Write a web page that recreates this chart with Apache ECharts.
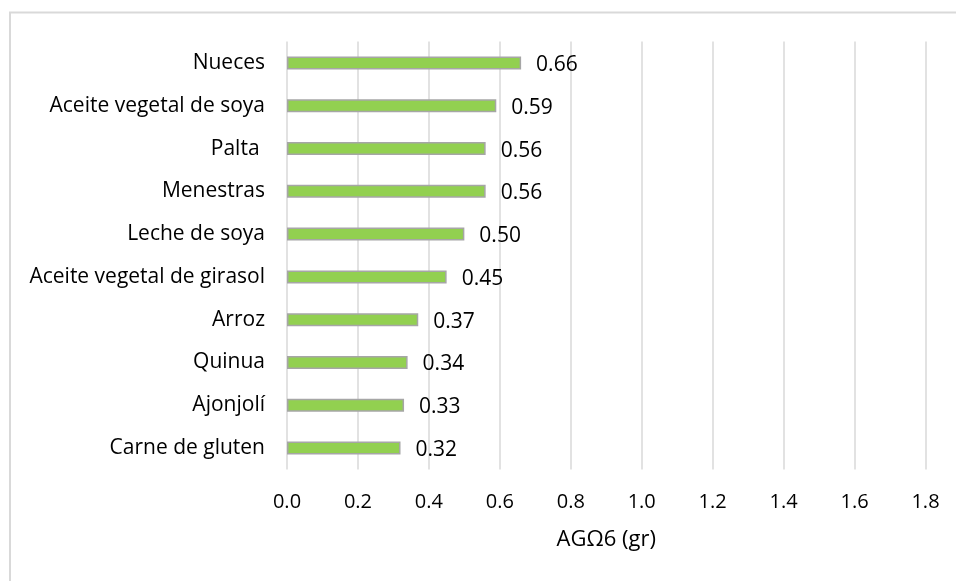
<!DOCTYPE html>
<html>
<head>
    <meta charset="UTF-8">
    <title>AGΩ6 bar chart</title>
    <script src="https://cdn.jsdelivr.net/npm/echarts@6/dist/echarts.min.js"></script>
    <style>
        html, body { margin: 0; padding: 0; background: #fff; }
    </style>
</head>
<body>
    <div id="main" style="width: 956px;height:581px;"></div>
    <script type="text/javascript">
        // categories top to bottom, as in the picture
        var foods = ['Nueces', 'Aceite vegetal de soya', 'Palta ', 'Menestras', 'Leche de soya',
            'Aceite vegetal de girasol', 'Arroz', 'Quinua', 'Ajonjolí', 'Carne de gluten'];
        var values = [0.66, 0.59, 0.56, 0.56, 0.50, 0.45, 0.37, 0.34, 0.33, 0.32];
        var axisTitle = 'AGΩ6 (gr)';

        var myChart = echarts.init(document.getElementById('main'));
        var font = '"Open Sans", "Noto Sans", sans-serif';

        var option = {
            backgroundColor: '#fff',
            textStyle: { fontFamily: font },
            grid: {
                left: 287,
                right: 30.5,
                top: 41.6,
                bottom: 111.6,
                containLabel: false
            },
            xAxis: {
                type: 'value',
                min: 0,
                max: 1.8,
                interval: 0.2,
                name: axisTitle,
                nameLocation: 'middle',
                nameGap: 59,
                nameTextStyle: { fontSize: 22, color: '#000', fontFamily: font },
                axisLine: { show: false },
                axisTick: { show: false },
                axisLabel: {
                    fontSize: 20,
                    color: '#000',
                    margin: 23,
                    fontFamily: font,
                    formatter: function (v) { return v.toFixed(1); }
                },
                splitLine: { show: true, lineStyle: { color: '#d9d9d9', width: 1.5 } }
            },
            yAxis: {
                type: 'category',
                data: foods,
                inverse: true,
                axisLine: { show: false },
                axisTick: { show: false },
                axisLabel: { fontSize: 21, color: '#000', margin: 22, fontFamily: font }
            },
            series: [{
                type: 'bar',
                data: values,
                barWidth: 13,
                itemStyle: {
                    color: '#92d050',
                    borderColor: '#a6a6a6',
                    borderWidth: 1.5
                },
                label: {
                    show: true,
                    position: 'right',
                    distance: 15,
                    offset: [0, 2],
                    fontSize: 21,
                    color: '#000',
                    fontFamily: font,
                    formatter: function (p) { return p.value.toFixed(2); }
                }
            }],
            graphic: [
                { type: 'line', shape: { x1: 9, y1: 12.5, x2: 956, y2: 12.5 },
                  style: { stroke: '#d9d9d9', lineWidth: 2 } },
                { type: 'line', shape: { x1: 10, y1: 12, x2: 10, y2: 581 },
                  style: { stroke: '#d9d9d9', lineWidth: 2 } }
            ]
        };

        myChart.setOption(option);
    </script>
</body>
</html>
